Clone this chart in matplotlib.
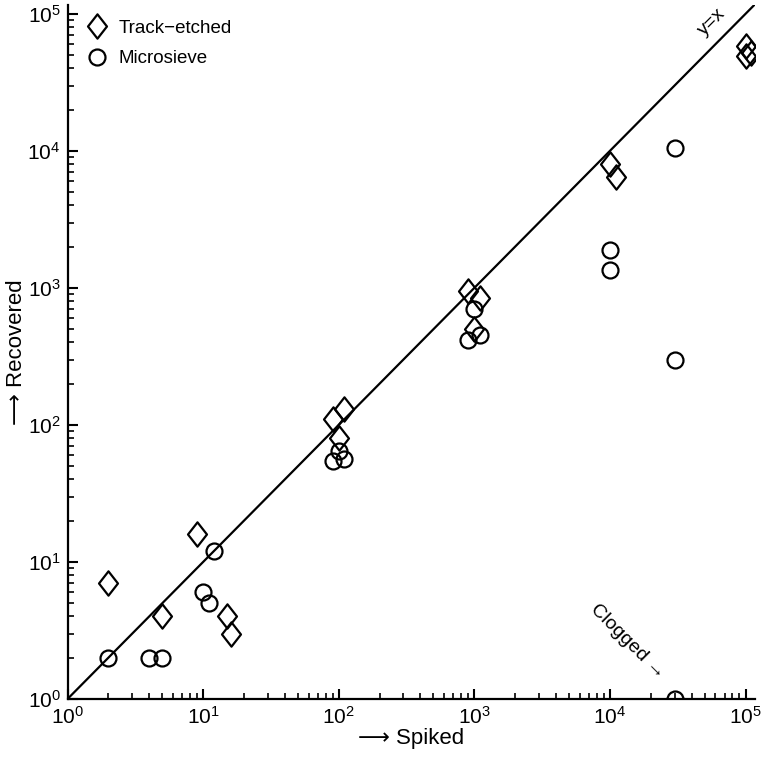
import matplotlib
matplotlib.use("Agg")
import matplotlib.pyplot as plt
import numpy as np
from matplotlib.path import Path
from matplotlib.ticker import LogLocator, FuncFormatter, NullFormatter

plt.rcParams['font.family'] = ['Liberation Sans', 'DejaVu Sans']
plt.rcParams['mathtext.fontset'] = 'custom'
plt.rcParams['mathtext.rm'] = 'Liberation Sans'
plt.rcParams['mathtext.it'] = 'Liberation Sans:italic'

# Data
track_spiked = [2, 5, 9, 15, 16, 90, 110, 100, 900, 1100, 1000, 10000, 11000, 100000, 110000, 100000]
track_recovered = [7, 4, 16, 4, 3, 110, 130, 80, 950, 850, 500, 8000, 6500, 58000, 52000, 49000]

micro_spiked = [2, 4, 5, 12, 10, 11, 100, 90, 110, 1000, 900, 1100, 30000, 10000, 10000, 30000, 30000]
micro_recovered = [2, 2, 2, 12, 6, 5, 65, 55, 56, 700, 420, 450, 10500, 1900, 1350, 300, 1]

identity = [1, 1.2e5]
legend_labels = ['Track\u2212etched', 'Microsieve']

diamond = Path([(0, 1), (0.78, 0), (0, -1), (-0.78, 0), (0, 1)],
               [Path.MOVETO, Path.LINETO, Path.LINETO, Path.LINETO, Path.CLOSEPOLY])

fig = plt.figure(figsize=(7.7, 7.61), dpi=100)
ax = fig.add_axes([0.0877, 0.0815, 0.8925, 0.9119])

ax.plot(identity, identity, color='black', lw=1.6, zorder=1)
ax.plot(track_spiked, track_recovered, linestyle='none', marker=diamond, markersize=17.5,
        markerfacecolor='none', markeredgecolor='black', markeredgewidth=1.6,
        label=legend_labels[0], zorder=3)
ax.plot(micro_spiked, micro_recovered, linestyle='none', marker='o', markersize=11.5,
        markerfacecolor='none', markeredgecolor='black', markeredgewidth=1.6,
        label=legend_labels[1], zorder=3)

ax.set_xscale('log')
ax.set_yscale('log')
ax.set_xlim(1, 1.17e5)
ax.set_ylim(1, 1.16e5)

for s in ['top', 'right']:
    ax.spines[s].set_visible(False)
for s in ['left', 'bottom']:
    ax.spines[s].set_linewidth(1.6)

major = [1, 10, 100, 1000, 10000, 100000]
ax.set_xticks(major)
ax.set_yticks(major)
fmt = FuncFormatter(lambda v, p: r'$\mathregular{10^{%d}}$' % int(round(np.log10(v))))
ax.xaxis.set_major_formatter(fmt)
ax.yaxis.set_major_formatter(fmt)
ax.xaxis.set_minor_locator(LogLocator(base=10, subs=np.arange(2, 10), numticks=20))
ax.yaxis.set_minor_locator(LogLocator(base=10, subs=np.arange(2, 10), numticks=20))
ax.xaxis.set_minor_formatter(NullFormatter())
ax.yaxis.set_minor_formatter(NullFormatter())
ax.tick_params(which='major', direction='in', length=7, width=1.5, labelsize=15, pad=5)
ax.tick_params(which='minor', direction='in', length=4, width=1.2)

ax.set_xlabel('\u27F6 Spiked', fontsize=16, labelpad=0)
ax.set_ylabel('\u27F6 Recovered', fontsize=16, labelpad=0)

ax.text(0.938, 0.975, 'y=x', transform=ax.transAxes, rotation=45, fontsize=14,
        ha='center', va='center')
ax.text(0.815, 0.082, 'Clogged \u2192', transform=ax.transAxes, rotation=-45, fontsize=14,
        ha='center', va='center')

leg = ax.legend(loc='upper left', bbox_to_anchor=(0.008, 0.998), frameon=False, fontsize=13.5,
                handlelength=1.2, handletextpad=0.55, labelspacing=0.72, borderaxespad=0.3)

fig.savefig('out.png', dpi=100)
